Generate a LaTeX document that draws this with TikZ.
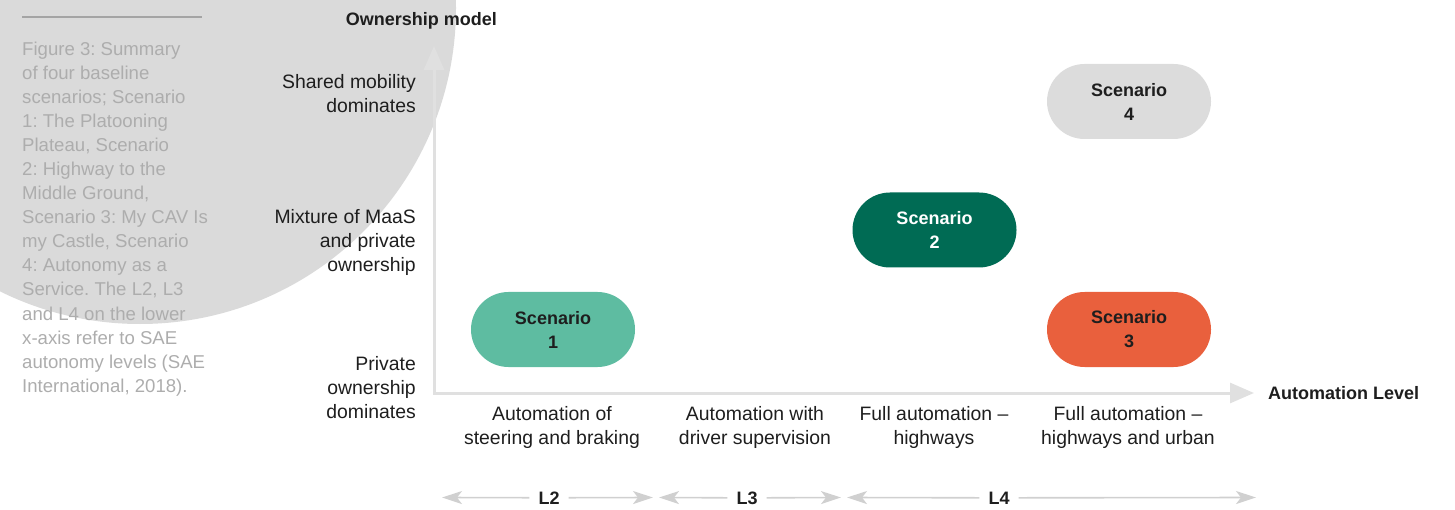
\documentclass[tikz,border=0pt]{standalone}
\usepackage{fontspec}
\setmainfont{Liberation Sans}
\usetikzlibrary{arrows.meta}
\frenchspacing

\definecolor{capgrey}{HTML}{ADADAD}
\definecolor{rulegrey}{HTML}{A4A4A4}
\definecolor{discgrey}{HTML}{DADADA}
\definecolor{axisgrey}{HTML}{E0E0E0}
\definecolor{levelgrey}{HTML}{D0D0D0}
\definecolor{inkdark}{HTML}{1E1E1E}
\definecolor{scA}{HTML}{5EBCA1}
\definecolor{scB}{HTML}{006B54}
\definecolor{scC}{HTML}{E9603D}
\definecolor{scD}{HTML}{DCDCDC}

% line strut: every label line gets the same height and depth
\newcommand{\ls}{\rule[-7pt]{0pt}{24pt}}

\begin{document}
\begin{tikzpicture}[x=1pt,y=-1pt,
  lab/.style={font=\fontsize{19.4}{24}\selectfont, text=inkdark, inner sep=0pt},
  ylab/.style={lab, align=right, anchor=east},
  xlab/.style={lab, align=center},
  axtitle/.style={font=\fontsize{18}{24}\selectfont\bfseries, text=inkdark, inner sep=0pt},
  captext/.style={font=\fontsize{18.6}{24}\selectfont, text=capgrey, inner sep=0pt, anchor=base west},
  pill/.style={rectangle, rounded corners=37.5pt, minimum width=164pt, minimum height=75pt,
               inner sep=0pt, align=center, font=\fontsize{18}{24}\selectfont\bfseries},
  axisline/.style={draw=axisgrey, line width=3pt, line join=miter},
  lvl/.style={draw=levelgrey, line width=1.6pt, -{Stealth[length=20pt,width=13pt,inset=5pt]}},
  lvltext/.style={font=\fontsize{18}{24}\selectfont\bfseries, text=inkdark, inner xsep=9pt, inner ysep=0pt},
]
\useasboundingbox (0,0) rectangle (1455,510);
\clip (0,0) rectangle (1455,510);

% background disc behind the caption
\fill[discgrey] (140,8) circle (316pt);

% caption column
\coordinate (ruleL) at (22,17);
\coordinate (ruleR) at (202,17);
\draw[rulegrey, line width=1.3pt] (ruleL) -- (ruleR);
\foreach \t [count=\i from 0] in {
  {Figure 3: Summary},
  {of four baseline},
  {scenarios; Scenario},
  {1: The Platooning},
  {Plateau, Scenario},
  {2: Highway to the},
  {Middle Ground,},
  {Scenario 3: My CAV Is},
  {my Castle, Scenario},
  {4: Autonomy as a},
  {Service. The L2, L3},
  {and L4 on the lower},
  {x-axis refer to SAE},
  {autonomy levels (SAE},
  {International, 2018).}}
  \node[captext] (cap\i) at (22,{56+24*\i}) {\t};

% axes
\coordinate (orig) at (434,393);
\coordinate (ytip) at (434,46);
\coordinate (xtip) at (1254,393);
\draw[axisline, {Triangle[length=24pt,width=20pt]}-{Triangle[length=24pt,width=20pt]}]
  (ytip) -- (orig) -- (xtip);

\node[axtitle, anchor=base east] (ytitle) at (497,26) {Ownership model};
\node[axtitle, anchor=base west] (xtitle) at (1268,399.5) {Automation Level};

% ownership categories
\node[ylab] (own3) at (416,96)  {\ls Shared mobility\\\ls dominates};
\node[ylab] (own2) at (416,243) {\ls Mixture of MaaS\\\ls and private\\\ls ownership};
\node[ylab] (own1) at (416,389) {\ls Private\\\ls ownership\\\ls dominates};

% automation categories
\node[xlab] (aut1) at (552,427)  {\ls Automation of\\\ls steering and braking};
\node[xlab] (aut2) at (755,427)  {\ls Automation with\\\ls driver supervision};
\node[xlab] (aut3) at (934,427)  {\ls Full automation –\\\ls highways};
\node[xlab] (aut4) at (1128,427) {\ls Full automation –\\\ls highways and urban};

% scenarios
\node[pill, fill=scA, text=inkdark] (s1) at (553,329.5)  {Scenario\\1};
\node[pill, fill=scB, text=white]   (s2) at (934.5,230)  {Scenario\\2};
\node[pill, fill=scC, text=inkdark] (s3) at (1129,329.5) {Scenario\\3};
\node[pill, fill=scD, text=inkdark] (s4) at (1129,101.5) {Scenario\\4};

% SAE level spans
\node[lvltext, anchor=base] (l2) at (549,504) {L2};
\node[lvltext, anchor=base] (l3) at (747,504) {L3};
\node[lvltext, anchor=base] (l4) at (999,504) {L4};
\coordinate (l2a) at (442,497.5);
\coordinate (l2b) at (653,497.5);
\coordinate (l3a) at (659,497.5);
\coordinate (l3b) at (841,497.5);
\coordinate (l4a) at (847,497.5);
\coordinate (l4b) at (1256,497.5);
\draw[lvl] (l2.west) -- (l2a);
\draw[lvl] (l2.east) -- (l2b);
\draw[lvl] (l3.west) -- (l3a);
\draw[lvl] (l3.east) -- (l3b);
\draw[lvl] (l4.west) -- (l4a);
\draw[lvl] (l4.east) -- (l4b);
\end{tikzpicture}
\end{document}
